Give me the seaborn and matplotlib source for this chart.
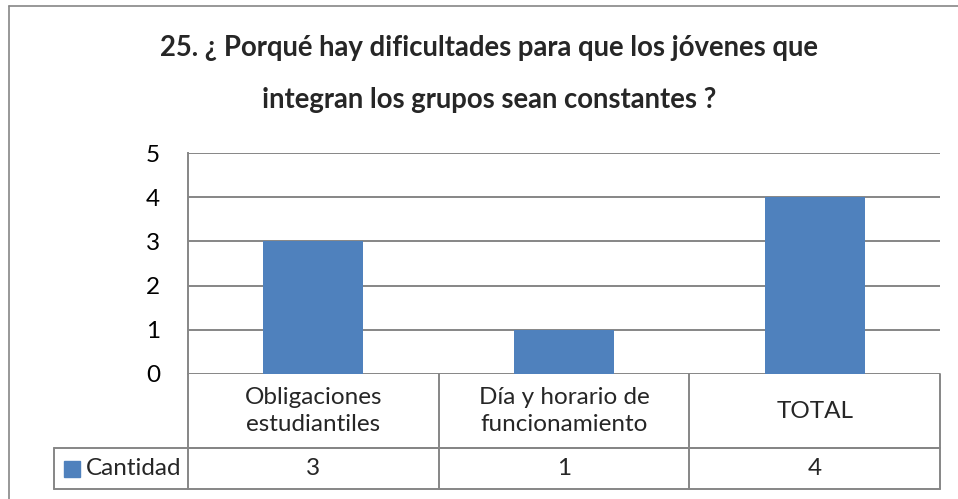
"""
Pregunta 25 - grafico de barras con tabla de datos (estilo Excel)
"""

import matplotlib.pyplot as plt
from matplotlib.lines import Line2D
import seaborn as sns
import pandas as pd

# -----------------------------
# Data
# -----------------------------
title_lines = [
    "25. ¿ Porqué hay dificultades para que los jóvenes que",
    "integran los grupos sean constantes ?",
]
categories = ["Obligaciones\nestudiantiles", "Día y horario de\nfuncionamiento", "TOTAL"]
cantidad = [3, 1, 4]
series_name = "Cantidad"
y_ticks = [0, 1, 2, 3, 4, 5]

BAR_COLOR = "#4F81BD"
GRID_COLOR = "#868686"
W, H = 958, 499
FS = 17.5

sns.set_theme(style="white")
plt.rcParams["font.family"] = ["Lato", "DejaVu Sans"]

df = pd.DataFrame({"categoria": categories, "cantidad": cantidad})

fig = plt.figure(figsize=(W / 100, H / 100), dpi=100)

# plot area in pixels: x 188..940, y 153..374
left, right, top, bottom = 188, 940, 153, 374
ax = fig.add_axes([left / W, 1 - bottom / H, (right - left) / W, (bottom - top) / H])

sns.barplot(data=df, x="categoria", y="cantidad", color=BAR_COLOR, width=0.4,
            saturation=1, linewidth=0, ax=ax)

ax.set_ylim(0, 5)
ax.set_xlim(-0.5, len(categories) - 0.5)
ax.set_yticks(y_ticks)
ax.set_xticks([])
ax.set_xlabel("")
ax.set_ylabel("")
ax.tick_params(axis="y", length=0, pad=20, labelsize=FS, colors="black")
ax.yaxis.grid(True, color=GRID_COLOR, linewidth=1.4)
ax.set_axisbelow(True)
for side in ["top", "right", "bottom"]:
    ax.spines[side].set_visible(False)
ax.spines["left"].set_color(GRID_COLOR)
ax.spines["left"].set_linewidth(1.4)

# -----------------------------
# Data table under the axis
# -----------------------------
ph = bottom - top
pw = right - left
row1 = -(448 - bottom) / ph
row2 = -(489 - bottom) / ph
key_left = (54 - left) / pw
line_kw = dict(color=GRID_COLOR, linewidth=1.4, clip_on=False)

xt = ax.get_xaxis_transform()
# horizontal table lines
ax.plot([0, 1], [row1, row1], transform=ax.transAxes, **line_kw)
ax.plot([key_left, 1], [row1, row1], transform=ax.transAxes, **line_kw)
ax.plot([key_left, 1], [row2, row2], transform=ax.transAxes, **line_kw)
ax.plot([key_left, key_left], [row1, row2], transform=ax.transAxes, **line_kw)
# vertical separators between categories
for i in range(len(categories) + 1):
    xpos = i - 0.5
    ax.plot([xpos, xpos], [0, row2], transform=xt, **line_kw)

for i, (cat, val) in enumerate(zip(categories, cantidad)):
    ax.text(i, row1 / 2, cat, transform=xt, ha="center", va="center",
            fontsize=FS, linespacing=1.4)
    ax.text(i, (row1 + row2) / 2, str(val), transform=xt, ha="center", va="center",
            fontsize=FS)

# legend key + series name
ax.plot([(71.5 - left) / pw], [(row1 + row2) / 2], marker="s", markersize=11,
        color=BAR_COLOR, transform=ax.transAxes, clip_on=False, linestyle="none")
ax.text((86 - left) / pw, (row1 + row2) / 2, series_name, transform=ax.transAxes,
        ha="left", va="center", fontsize=FS)

# -----------------------------
# Title and chart border
# -----------------------------
fig.text(489 / W, 1 - 48 / H, title_lines[0], ha="center", va="center",
         fontsize=19.8, fontweight="bold")
fig.text(489 / W, 1 - 100 / H, title_lines[1], ha="center", va="center",
         fontsize=19.8, fontweight="bold")

fig.add_artist(Line2D([9 / W, 9 / W], [0, 1 - 6 / H], color=GRID_COLOR, linewidth=1.2))
fig.add_artist(Line2D([9 / W, 1], [1 - 6 / H, 1 - 6 / H], color=GRID_COLOR, linewidth=1.2))

fig.savefig("out.png", dpi=100)
